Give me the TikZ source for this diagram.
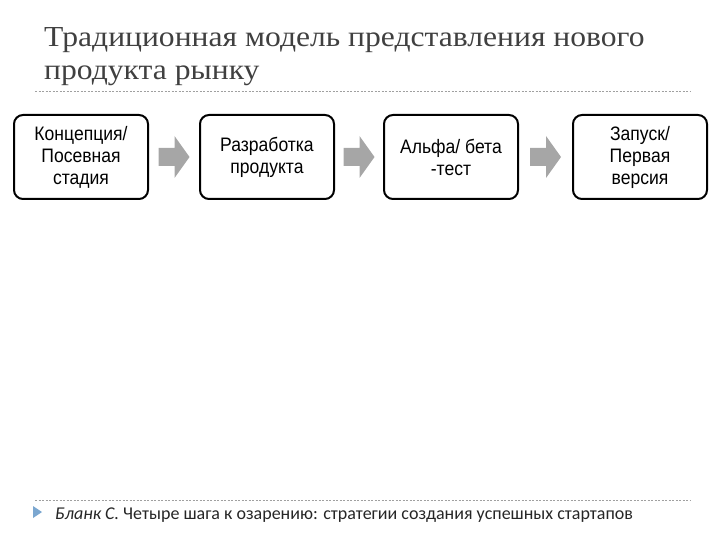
\documentclass[tikz,border=0pt]{standalone}
\usepackage{fontspec}
\setmainfont{Liberation Serif}
\newfontfamily\boxfont{Liberation Sans}
\newfontfamily\notefont{Carlito}
\usetikzlibrary{calc}
\definecolor{titlegray}{HTML}{404040}
\definecolor{arrowgray}{HTML}{A6A6A6}
\definecolor{linegray}{HTML}{A0A0A0}
\definecolor{bulletblue}{HTML}{7BA7D0}
\tikzset{
  stagebox/.style={draw=black, line width=2pt, rounded corners=9pt, minimum width=134pt, minimum height=84pt, inner sep=2pt},
  stagetext/.style={align=center, font=\boxfont\fontsize{19.5}{22}\selectfont, inner sep=0, xscale=0.9},
  sepline/.style={draw=linegray, line width=0.8pt, dash pattern=on 2pt off 1.5pt},
  titletext/.style={anchor=base west, text=titlegray, font=\fontsize{29}{33}\selectfont, inner sep=0, xscale=1.09},
}
\begin{document}
\begin{tikzpicture}[x=1pt,y=-1pt]
\useasboundingbox (0,0) rectangle (720,540);
% title
\node[titletext] (t1) at (44,47) {Традиционная модель представления нового};
\node[titletext] (t2) at (44,80) {продукта рынку};
\coordinate (l1a) at (35,91); \coordinate (l1b) at (690,91);
\draw[sepline] (l1a) -- (l1b);
% boxes
\node[stagebox] (b1) at (81,157) {};
\node[stagebox] (b2) at (267,157) {};
\node[stagebox] (b3) at (451,157) {};
\node[stagebox] (b4) at (640,157) {};
\node[stagetext] (x1) at (b1.center) {Концепция/\\Посевная\\стадия};
\node[stagetext] (x2) at (b2.center) {Разработка\\продукта};
\node[stagetext] (x3) at (b3.center) {Альфа/ бета\\-тест};
\node[stagetext] (x4) at (b4.center) {Запуск/\\Первая\\версия};
% block arrows
\foreach \a/\b/\n in {b1/b2/m1, b2/b3/m2, b3/b4/m3}{
  \coordinate (\n) at ($(\a.east)!0.5!(\b.west)$);
  \fill[arrowgray] ([shift={(-15.5,-9)}]\n) -- ([shift={(0.5,-9)}]\n) -- ([shift={(0.5,-21)}]\n) -- ([shift={(15.5,0)}]\n) -- ([shift={(0.5,21)}]\n) -- ([shift={(0.5,9)}]\n) -- ([shift={(-15.5,9)}]\n) -- cycle;
}
% footer
\coordinate (l2a) at (35,500); \coordinate (l2b) at (690,500);
\draw[sepline] (l2a) -- (l2b);
\coordinate (bl) at (37,512);
\fill[bulletblue] ([shift={(-4,-6)}]bl) -- ([shift={(5,0)}]bl) -- ([shift={(-4,6)}]bl) -- cycle;
\node[anchor=base west, inner sep=0, text=black!85, font=\notefont\fontsize{18}{21}\selectfont] (src) at (55,519) {\textit{Бланк С.} Четыре шага к озарению: стратегии создания успешных стартапов};
\end{tikzpicture}
\end{document}
